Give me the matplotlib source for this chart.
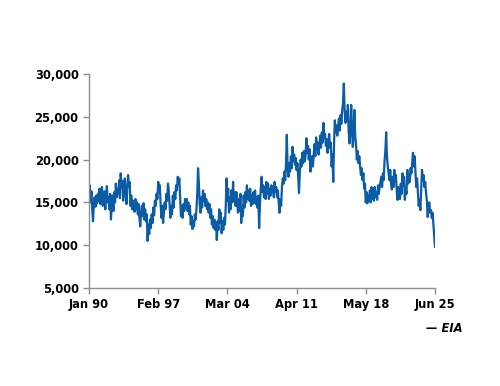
import numpy as np
import pandas as pd
import matplotlib.pyplot as plt
import matplotlib.dates as mdates
from matplotlib.ticker import FuncFormatter

# monthly values, thousands, Jan 1990 .. Jun 2025
vals = [
    16.2, 17.0, 15.0, 16.3, 14.2, 12.8, 14.8, 15.6, 14.5, 15.8, 14.9, 16.0,  # 1990
    15.2, 16.6, 14.8, 15.9, 16.8, 14.6, 15.5, 16.3, 14.2, 15.8, 16.9, 15.0,  # 1991
    15.6, 14.2, 16.0, 13.0, 14.8, 15.8, 14.0, 16.2, 15.0, 17.2, 15.6, 16.5,  # 1992
    16.0, 17.6, 15.5, 18.4, 16.8, 17.5, 15.2, 16.6, 17.8, 16.2, 14.8, 16.5,  # 1993
    18.2, 16.8, 17.4, 14.6, 15.8, 14.2, 15.2, 14.8, 13.9, 15.4, 14.2, 15.0,  # 1994
    13.6, 14.8, 13.2, 12.2, 13.8, 14.6, 13.4, 14.9, 13.0, 14.2, 12.8, 13.6,  # 1995
    10.5, 12.4, 11.3, 13.0, 12.0, 13.6, 12.6, 14.4, 13.5, 15.2, 14.6, 16.0,  # 1996
    15.4, 17.4, 16.2, 17.0, 14.8, 13.2, 14.6, 12.6, 13.8, 15.0, 14.2, 16.0,  # 1997
    15.2, 17.2, 16.4, 14.8, 13.2, 14.6, 13.6, 15.8, 14.4, 16.2, 15.4, 17.0,  # 1998
    16.4, 18.0, 17.2, 17.8, 15.6, 13.4, 14.6, 13.2, 14.8, 14.0, 15.4, 14.4,  # 1999
    15.4, 14.0, 15.0, 13.6, 14.6, 12.4, 13.4, 11.9, 12.8, 12.2, 13.6, 13.0,  # 2000
    14.2, 16.2, 19.0, 17.2, 14.8, 13.8, 15.6, 14.4, 16.4, 15.2, 16.0, 14.6,  # 2001
    15.4, 14.2, 15.0, 13.8, 14.8, 13.2, 14.2, 12.4, 13.4, 12.0, 13.0, 11.8,  # 2002
    12.6, 10.6, 12.8, 11.8, 14.2, 12.6, 13.8, 11.4, 12.8, 11.8, 13.2, 12.4,  # 2003
    14.6, 17.8, 15.2, 16.6, 13.8, 15.6, 14.2, 16.4, 15.0, 17.4, 15.2, 16.2,  # 2004
    14.6, 16.2, 15.0, 13.8, 15.4, 14.0, 16.0, 12.6, 14.6, 13.4, 15.8, 14.4,  # 2005
    16.2, 15.0, 17.0, 15.4, 16.4, 15.2, 16.6, 14.6, 15.8, 14.8, 16.2, 15.0,  # 2006
    16.4, 14.8, 15.6, 14.4, 15.8, 12.0, 14.6, 16.6, 18.0, 16.2, 17.0, 15.6,  # 2007
    16.8, 15.4, 17.4, 16.0, 17.2, 15.4, 16.6, 15.8, 17.0, 16.2, 16.8, 15.6,  # 2008
    17.4, 16.2, 16.8, 15.6, 16.4, 15.0, 13.8, 15.4, 14.6, 16.8, 17.8, 17.2,  # 2009
    18.6, 17.6, 19.4, 22.9, 19.2, 18.0, 19.6, 18.6, 20.4, 19.0, 21.5, 19.8,  # 2010
    20.6, 19.4, 20.2, 18.8, 19.6, 18.0, 16.1, 18.6, 20.0, 19.2, 20.8, 19.6,  # 2011
    21.0, 19.8, 20.4, 22.5, 20.8, 21.6, 20.0, 21.2, 18.6, 19.8, 20.4, 19.2,  # 2012
    20.6, 21.8, 20.4, 22.6, 21.2, 22.0, 20.6, 21.6, 22.8, 21.4, 23.2, 22.0,  # 2013
    24.3, 22.6, 23.0, 21.6, 22.4, 20.8, 21.9, 23.0, 21.4, 22.0, 19.2, 20.6,  # 2014
    17.4, 22.0, 24.6, 23.2, 24.0, 22.8, 23.8, 24.8, 23.4, 25.2, 24.2, 25.8,  # 2015
    26.6, 28.9, 25.8, 24.3, 25.6, 24.6, 26.4, 23.2, 21.9, 23.0, 26.4, 24.0,  # 2016
    21.5, 23.0, 25.8, 22.8, 21.8, 20.0, 21.0, 19.6, 20.4, 19.2, 18.2, 19.0,  # 2017
    17.6, 18.4, 16.6, 17.2, 15.0, 16.2, 14.9, 15.8, 15.2, 16.4, 15.0, 16.8,  # 2018
    15.4, 16.6, 15.2, 16.8, 15.6, 16.2, 15.3, 17.0, 16.0, 16.8, 17.4, 18.0,  # 2019
    16.8, 18.4, 17.6, 19.8, 21.0, 23.2, 20.4, 19.2, 18.4, 17.6, 18.8, 17.2,  # 2020
    16.5, 18.0, 16.8, 18.8, 17.4, 18.2, 16.4, 15.3, 16.8, 16.0, 15.4, 17.2,  # 2021
    16.0, 18.4, 17.0, 18.0, 15.3, 16.6, 16.0, 18.8, 17.2, 18.2, 17.4, 19.0,  # 2022
    18.4, 19.6, 20.8, 19.2, 20.4, 18.6, 16.8, 17.8, 16.2, 14.6, 15.4, 14.1,  # 2023
    16.6, 18.8, 17.6, 18.2, 16.8, 17.4, 16.1, 15.2, 13.3, 14.6, 15.0, 13.8,  # 2024
    14.1, 13.2, 13.8, 12.4, 11.2, 9.8,                                       # 2025
]
dates = pd.date_range("1990-01-01", periods=len(vals), freq="MS")
values = np.array(vals) * 1000

tick_dates = pd.to_datetime(["1990-01-01", "1997-02-01", "2004-03-01",
                             "2011-04-01", "2018-05-01", "2025-06-01"])
source = "— EIA"

plt.rcParams['font.family'] = ['DejaVu Sans']
plt.rcParams['font.weight'] = 'bold'

fig = plt.figure(figsize=(5, 3.86), dpi=100)
ax = fig.add_axes([0.178, 0.254, 0.692, 0.554])
ax.plot(dates, values, color="#0b5ca5", linewidth=1.6)

ax.set_xlim(tick_dates[0], tick_dates[-1])
ax.set_ylim(5000, 30000)
ax.set_yticks(np.arange(5000, 30001, 5000))
ax.yaxis.set_major_formatter(FuncFormatter(lambda v, p: f"{v:,.0f}"))
ax.set_xticks(tick_dates)
ax.xaxis.set_major_formatter(mdates.DateFormatter("%b %y"))

for s in ["top", "right"]:
    ax.spines[s].set_visible(False)
for s in ["left", "bottom"]:
    ax.spines[s].set_color("#8c8c8c")
    ax.spines[s].set_linewidth(1)
ax.tick_params(colors="#8c8c8c", labelcolor="black", length=4, width=1,
               labelsize=8.3)
ax.tick_params(axis="x", pad=3)

fig.text(0.925, 0.148, source, ha="right", va="center", fontsize=8.3,
         style="italic", fontweight="bold")

fig.savefig("out.png", dpi=100)
